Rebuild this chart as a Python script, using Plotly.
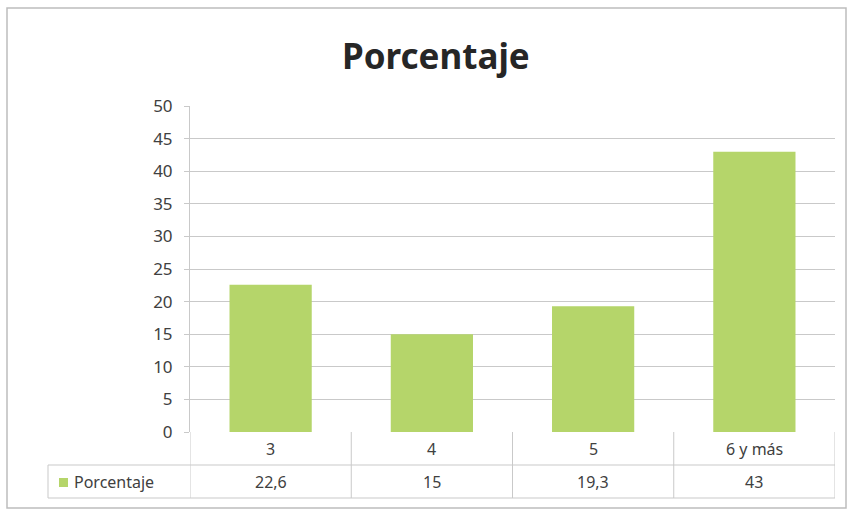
import plotly.graph_objects as go

categories = ["3", "4", "5", "6 y más"]
values = [22.6, 15, 19.3, 43]
value_labels = ["22,6", "15", "19,3", "43"]
series_name = "Porcentaje"
title = "Porcentaje"
y_ticks = [0, 5, 10, 15, 20, 25, 30, 35, 40, 45, 50]

W, H = 849, 512
L, R, T, B = 190, 14, 106, 80
pw, ph = W - L - R, H - T - B

def px(x):
    return (x - L) / pw

def py(y):
    return (H - B - y) / ph

font = "Liberation Sans Narrow, Noto Sans, sans-serif"

fig = go.Figure(go.Bar(
    x=list(range(len(categories))), y=values, width=0.51,
    marker=dict(color="#b5d56a", line=dict(width=0)),
    name=series_name, showlegend=False,
))

shapes = []
line_col = "#c9c9c9"
for yy in [465, 498]:
    shapes.append(dict(type="line", xref="paper", yref="paper", x0=px(48), x1=px(835),
                       y0=py(yy), y1=py(yy), line=dict(color=line_col, width=1)))
shapes.append(dict(type="line", xref="paper", yref="paper", x0=px(48), x1=px(48),
                   y0=py(465), y1=py(498), line=dict(color=line_col, width=1)))
for i in range(len(categories) + 1):
    shapes.append(dict(type="line", xref="x", yref="paper", x0=i - 0.5, x1=i - 0.5,
                       y0=0, y1=py(498), line=dict(color=line_col, width=1)))
shapes.append(dict(type="rect", xref="paper", yref="paper", x0=px(7), x1=px(846),
                   y0=py(8), y1=py(508), line=dict(color="#bdbdbd", width=1.5)))
shapes.append(dict(type="rect", xref="paper", yref="paper", x0=px(59), x1=px(68),
                   y0=py(478), y1=py(487), fillcolor="#b5d56a", line=dict(width=0)))

annotations = []
for i, c in enumerate(categories):
    annotations.append(dict(x=i, y=py(449), xref="x", yref="paper", text=c, showarrow=False,
                            yanchor="middle",
                            font=dict(family=font, size=16, color="#404040")))
    annotations.append(dict(x=i, y=py(482), xref="x", yref="paper", text=value_labels[i], showarrow=False,
                            yanchor="middle",
                            font=dict(family=font, size=16, color="#404040")))
annotations.append(dict(x=px(72), y=py(482), xref="paper", yref="paper", text=series_name,
                        showarrow=False, xanchor="left", yanchor="middle",
                        font=dict(family=font, size=16, color="#404040")))
annotations.append(dict(x=px(436), y=py(55), xref="paper", yref="paper", text="<b>" + title + "</b>",
                        showarrow=False, yanchor="middle",
                        font=dict(family=font, size=35, color="#262626")))

fig.update_layout(
    width=W, height=H,
    margin=dict(l=L, r=R, t=T, b=B),
    paper_bgcolor="white", plot_bgcolor="white",
    xaxis=dict(range=[-0.5, len(categories) - 0.5], showticklabels=False, showgrid=False,
               zeroline=False, showline=False, fixedrange=True),
    yaxis=dict(range=[0, 50], tickvals=y_ticks, showgrid=True, gridcolor="#c9c9c9", gridwidth=1,
               zeroline=False, showline=True, linecolor="#c9c9c9", linewidth=1,
               ticks="outside", ticklen=5, tickcolor="#c9c9c9",
               tickfont=dict(family=font, size=17, color="#404040"), ticklabelstandoff=8),
    shapes=shapes, annotations=annotations,
)

fig.write_html("out.html", config={"displayModeBar": False},
               post_script="document.body.style.margin='0';")
